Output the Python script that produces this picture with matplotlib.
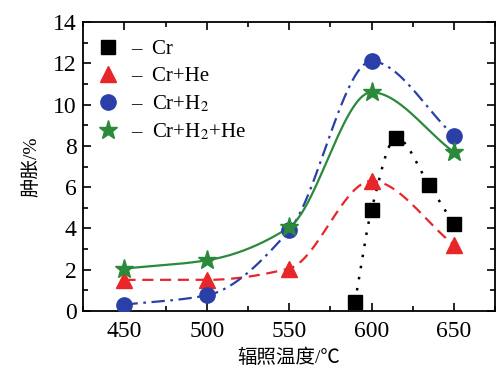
import numpy as np
import matplotlib.pyplot as plt
from matplotlib.ticker import MultipleLocator
from matplotlib.lines import Line2D

plt.rcParams['font.family'] = ['Liberation Serif', 'Noto Sans CJK SC']
plt.rcParams['mathtext.fontset'] = 'stix'

# 数据
t_cr = [590, 600, 615, 635, 650]
s_cr = [0.45, 4.9, 8.4, 6.1, 4.2]
t = [450, 500, 550, 600, 650]
s_he = [1.5, 1.5, 2.05, 6.3, 3.2]
s_h2 = [0.3, 0.75, 3.9, 12.1, 8.5]
s_h2he = [2.05, 2.45, 4.05, 10.6, 7.7]


def smooth(x, y, n=200):
    # 单调三次 Hermite 插值（PCHIP），只用来画平滑连线
    x = np.asarray(x, float)
    y = np.asarray(y, float)
    h = np.diff(x)
    d = np.diff(y) / h
    m = np.zeros_like(y)
    for i in range(1, len(x) - 1):
        if d[i - 1] * d[i] > 0:
            w1 = 2 * h[i] + h[i - 1]
            w2 = h[i] + 2 * h[i - 1]
            m[i] = (w1 + w2) / (w1 / d[i - 1] + w2 / d[i])
    m[0] = d[0]
    m[-1] = d[-1]
    xs = np.linspace(x[0], x[-1], n)
    j = np.clip(np.searchsorted(x, xs) - 1, 0, len(x) - 2)
    s = (xs - x[j]) / h[j]
    h00 = 2 * s**3 - 3 * s**2 + 1
    h10 = s**3 - 2 * s**2 + s
    h01 = -2 * s**3 + 3 * s**2
    h11 = s**3 - s**2
    ys = h00 * y[j] + h10 * h[j] * m[j] + h01 * y[j + 1] + h11 * h[j] * m[j + 1]
    return xs, ys


fig, ax = plt.subplots(figsize=(4.96, 3.70), dpi=100)
fig.subplots_adjust(left=0.168, right=0.998, top=0.94, bottom=0.16)

red = '#e8262a'
blue = '#2b3fa8'
green = '#2a8a3a'

ax.plot(*smooth(t_cr, s_cr), color='black', ls=(0, (1, 3.5)), lw=1.8)
ax.plot(*smooth(t, s_he), color=red, ls=(0, (5, 3)), lw=1.6)
ax.plot(*smooth(t, s_h2), color=blue, ls=(0, (6, 2.5, 1.2, 2.5)), lw=1.6)
ax.plot(*smooth(t, s_h2he), color=green, ls='-', lw=1.6)

ax.plot(t_cr, s_cr, 's', color='black', ms=10, zorder=5)
ax.plot(t, s_he, '^', color=red, ms=11, zorder=5)
ax.plot(t, s_h2, 'o', color=blue, ms=11, zorder=5)
ax.plot(t, s_h2he, '*', color=green, ms=14, zorder=5)

ax.set_xlim(425, 675)
ax.set_ylim(0, 14)
ax.xaxis.set_major_locator(MultipleLocator(50))
ax.xaxis.set_minor_locator(MultipleLocator(25))
ax.yaxis.set_major_locator(MultipleLocator(2))
ax.yaxis.set_minor_locator(MultipleLocator(1))
ax.tick_params(which='both', direction='in', top=True, right=True, width=1.2,
               labelsize=17)
ax.tick_params(which='major', length=6)
ax.tick_params(which='minor', length=3.5)
ax.tick_params(axis='x', pad=7)
ax.tick_params(axis='y', pad=5)
for sp in ax.spines.values():
    sp.set_linewidth(1.3)

ax.set_xlabel('辐照温度/℃', fontsize=14, labelpad=5)
ax.set_ylabel('肿胀/%', fontsize=14, labelpad=9)

handles = [
    Line2D([], [], marker='s', color='black', ls='none', ms=10),
    Line2D([], [], marker='^', color=red, ls='none', ms=11),
    Line2D([], [], marker='o', color=blue, ls='none', ms=11),
    Line2D([], [], marker='*', color=green, ls='none', ms=14),
]
labels = ['–  Cr', '–  Cr+He', '–  Cr+H$_2$', '–  Cr+H$_2$+He']
leg = ax.legend(handles, labels, loc='upper left', frameon=False, fontsize=15,
                handlelength=1.0, handletextpad=0.6, labelspacing=0.35,
                borderaxespad=0.3, bbox_to_anchor=(0.0, 0.99))

fig.savefig('out.png', dpi=100)
